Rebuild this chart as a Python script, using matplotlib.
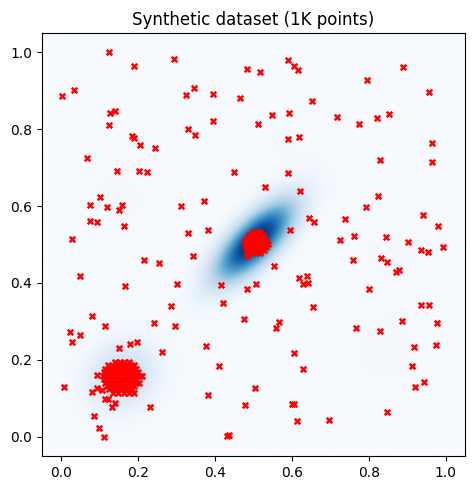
import numpy as np
import matplotlib
matplotlib.use("Agg")
from matplotlib import pyplot as plt

# scattered points
outlier_x = [0.123, 0.190, 0.003, 0.032, 0.126, 0.141, 0.123, 0.185, 0.190, 0.206,
             0.245, 0.068, 0.146, 0.201, 0.222,
             0.292, 0.484, 0.518, 0.590, 0.606, 0.616, 0.346, 0.325, 0.396, 0.466,
             0.653, 0.549, 0.593, 0.396, 0.512, 0.331, 0.349, 0.590, 0.619, 0.450, 0.590,
             0.889, 0.796, 0.957, 0.718, 0.775, 0.822, 0.853, 0.964, 0.829, 0.964,
             0.101, 0.076, 0.120, 0.149, 0.157, 0.074, 0.094, 0.162, 0.029, 0.214,
             0.255, 0.048, 0.167, 0.285, 0.081,
             0.531, 0.622, 0.372, 0.312, 0.645, 0.658, 0.596, 0.383, 0.331, 0.344,
             0.554, 0.302, 0.416, 0.484, 0.507, 0.619, 0.640, 0.629, 0.642, 0.422,
             0.655, 0.476, 0.567,
             0.824, 0.793, 0.738, 0.941, 0.980, 0.725, 0.762, 0.845, 0.902, 0.993,
             0.936, 0.954, 0.759, 0.832, 0.848, 0.871, 0.879, 0.801, 0.936, 0.957, 0.887,
             0.022, 0.027, 0.050, 0.115, 0.242, 0.149, 0.180, 0.196, 0.261, 0.006,
             0.232, 0.084, 0.097, 0.112,
             0.297, 0.559, 0.377, 0.606, 0.411, 0.629, 0.505, 0.383, 0.479, 0.601,
             0.606, 0.614, 0.432, 0.437,
             0.767, 0.829, 0.977, 0.918, 0.975, 0.912, 0.944, 0.920, 0.848, 0.697]
outlier_y = [1.000, 0.965, 0.887, 0.902, 0.841, 0.848, 0.811, 0.783, 0.776, 0.759,
             0.750, 0.724, 0.692, 0.690, 0.688,
             0.983, 0.957, 0.949, 0.980, 0.965, 0.954, 0.907, 0.889, 0.892, 0.881,
             0.874, 0.837, 0.842, 0.822, 0.814, 0.801, 0.785, 0.775, 0.780, 0.689, 0.687,
             0.962, 0.928, 0.897, 0.832, 0.814, 0.829, 0.840, 0.764, 0.720, 0.715,
             0.624, 0.603, 0.598, 0.590, 0.603, 0.562, 0.559, 0.549, 0.515, 0.460,
             0.452, 0.419, 0.393, 0.341, 0.315,
             0.650, 0.640, 0.614, 0.601, 0.569, 0.559, 0.538, 0.538, 0.530, 0.471,
             0.445, 0.398, 0.395, 0.385, 0.398, 0.413, 0.419, 0.398, 0.400, 0.348,
             0.338, 0.307, 0.299,
             0.627, 0.598, 0.567, 0.577, 0.549, 0.512, 0.523, 0.520, 0.507, 0.494,
             0.486, 0.481, 0.460, 0.465, 0.455, 0.429, 0.434, 0.385, 0.343, 0.343, 0.302,
             0.273, 0.247, 0.265, 0.289, 0.296, 0.231, 0.242, 0.247, 0.221, 0.130,
             0.078, 0.055, 0.023, 0.000,
             0.289, 0.283, 0.237, 0.218, 0.185, 0.177, 0.127, 0.109, 0.083, 0.086,
             0.086, 0.042, 0.003, 0.005,
             0.283, 0.276, 0.296, 0.234, 0.239, 0.185, 0.143, 0.130, 0.065, 0.044]

# lower-left cluster around (0.15, 0.15), one list per row of the blob
blob1_rows_y = [0.195, 0.186, 0.177, 0.168, 0.159, 0.150, 0.141, 0.132, 0.123, 0.114]
blob1_rows_x = [
    [0.140, 0.152, 0.164, 0.176],
    [0.122, 0.132, 0.142, 0.152, 0.162, 0.172, 0.182, 0.190],
    [0.114, 0.124, 0.134, 0.144, 0.154, 0.164, 0.174, 0.184, 0.194],
    [0.110, 0.120, 0.130, 0.140, 0.150, 0.160, 0.170, 0.180, 0.190, 0.200],
    [0.108, 0.118, 0.128, 0.138, 0.148, 0.158, 0.168, 0.178, 0.188, 0.198, 0.206],
    [0.112, 0.122, 0.132, 0.142, 0.152, 0.162, 0.172, 0.182, 0.192],
    [0.114, 0.124, 0.134, 0.144, 0.154, 0.164, 0.174, 0.184, 0.194, 0.202],
    [0.118, 0.128, 0.138, 0.148, 0.158, 0.168, 0.178, 0.188],
    [0.124, 0.134, 0.144, 0.154, 0.164, 0.174, 0.184],
    [0.134, 0.148, 0.162, 0.176],
]
# loose points around the lower-left cluster
blob1_extra_x = [0.094, 0.081, 0.094, 0.105, 0.115, 0.131, 0.140, 0.122, 0.211, 0.190]
blob1_extra_y = [0.161, 0.117, 0.127, 0.122, 0.099, 0.078, 0.088, 0.099, 0.159, 0.113]

# centre cluster around (0.5, 0.5)
blob2_rows_y = [0.533, 0.525, 0.517, 0.509, 0.501, 0.493, 0.485, 0.477, 0.470]
blob2_rows_x = [
    [0.498, 0.508, 0.516],
    [0.488, 0.497, 0.506, 0.515, 0.524],
    [0.482, 0.491, 0.500, 0.509, 0.518, 0.527],
    [0.479, 0.488, 0.497, 0.506, 0.515, 0.524, 0.533],
    [0.479, 0.488, 0.497, 0.506, 0.515, 0.524, 0.533, 0.538],
    [0.481, 0.490, 0.499, 0.508, 0.517, 0.526, 0.533],
    [0.484, 0.493, 0.502, 0.511, 0.520, 0.528],
    [0.486, 0.496, 0.506, 0.516],
    [0.482],
]

# mixture components for the background density
comp_means = [(0.158, 0.158), (0.503, 0.507), (0.57, 0.78), (0.86, 0.48), (0.85, 0.22), (0.15, 0.62)]
comp_sx = [0.062, 0.0685, 0.10, 0.09, 0.08, 0.09]
comp_sy = [0.060, 0.0685, 0.10, 0.09, 0.08, 0.09]
comp_rho = [0.15, 0.724, 0.0, 0.0, 0.0, 0.0]
comp_w = [0.16, 0.60, 0.015, 0.015, 0.015, 0.015]

gx, gy = np.meshgrid(np.linspace(-0.05, 1.05, 300), np.linspace(-0.05, 1.05, 300))
dens = np.zeros_like(gx)
for (mx, my), sx, sy, r, w in zip(comp_means, comp_sx, comp_sy, comp_rho, comp_w):
    dx = (gx - mx) / sx
    dy = (gy - my) / sy
    q = (dx**2 - 2 * r * dx * dy + dy**2) / (1 - r**2)
    dens += w * np.exp(-0.5 * q) / (2 * np.pi * sx * sy * np.sqrt(1 - r**2))

fig = plt.figure(figsize=(4.75, 4.9), dpi=100)
ax = fig.add_axes([0.0884, 0.0694, 0.8905, 0.8633])
ax.imshow(dens, extent=[-0.05, 1.05, -0.05, 1.05], origin='lower', cmap='Blues',
          vmin=0, vmax=dens.max() * 0.95, aspect='auto', interpolation='bilinear')

all_x = list(outlier_x) + blob1_extra_x
all_y = list(outlier_y) + blob1_extra_y
for yy, xs in zip(blob1_rows_y + blob2_rows_y, blob1_rows_x + blob2_rows_x):
    all_x += xs
    all_y += [yy] * len(xs)
ax.scatter(all_x, all_y, c='red', marker='x', s=16, linewidths=1.8)

ax.set_xlim(-0.05, 1.05)
ax.set_ylim(-0.05, 1.05)
ax.set_xticks([0.0, 0.2, 0.4, 0.6, 0.8, 1.0])
ax.set_yticks([0.0, 0.2, 0.4, 0.6, 0.8, 1.0])
ax.set_title("Synthetic dataset (1K points)")

fig.savefig("out.png")
